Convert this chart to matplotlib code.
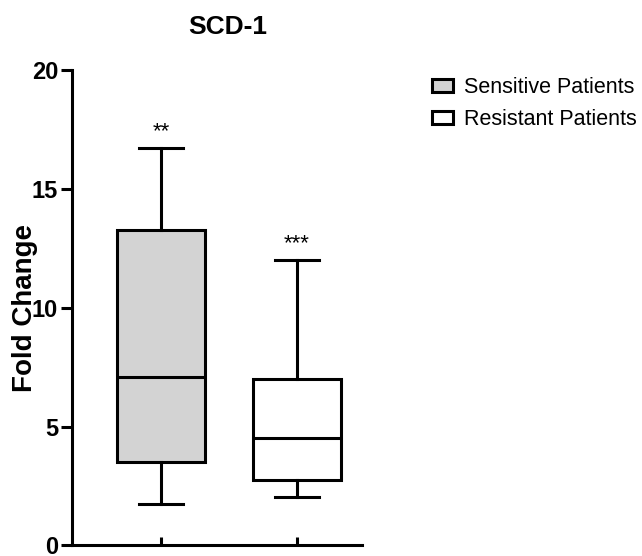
import matplotlib.pyplot as plt
from matplotlib.patches import Patch

plt.rcParams['font.family'] = ['Liberation Sans', 'DejaVu Sans']

# box summary values
groups = ['Sensitive Patients', 'Resistant Patients']
whisker_low = [1.76, 2.02]
q1 = [3.53, 2.77]
median = [7.10, 4.54]
q3 = [13.28, 7.02]
whisker_high = [16.72, 12.02]
stars = ['**', '***']
fills = ['#d3d3d3', 'white']

stats = []
for i, g in enumerate(groups):
    stats.append(dict(label=g, whislo=whisker_low[i], q1=q1[i], med=median[i],
                      q3=q3[i], whishi=whisker_high[i], fliers=[]))

fig = plt.figure(figsize=(6.42, 5.56), dpi=100)
ax = fig.add_axes([0.112, 0.019, 0.452, 0.855])

lw = 2.2
bp = ax.bxp(stats, positions=[1, 2], widths=0.647, patch_artist=True,
            showfliers=False,
            boxprops=dict(linewidth=lw, edgecolor='black'),
            medianprops=dict(linewidth=lw, color='black'),
            whiskerprops=dict(linewidth=lw, color='black'),
            capprops=dict(linewidth=lw, color='black'),
            capwidths=0.32)
for box, c in zip(bp['boxes'], fills):
    box.set_facecolor(c)

for i, s in enumerate(stars):
    ax.text(i + 1, whisker_high[i] + 0.25, s, ha='center', va='bottom', fontsize=16)

ax.set_xlim(0.346, 2.478)
ax.set_ylim(0, 20)
ax.set_yticks([0, 5, 10, 15, 20])
ax.set_xticks([1, 2])
ax.set_xticklabels([])
for side in ['top', 'right']:
    ax.spines[side].set_visible(False)
for side in ['left', 'bottom']:
    ax.spines[side].set_linewidth(lw)
ax.tick_params(axis='y', direction='out', length=8, width=lw, labelsize=17, pad=2)
ax.tick_params(axis='x', direction='in', length=6, width=lw)
for t in ax.get_yticklabels():
    t.set_fontweight('bold')

ax.set_ylabel('Fold Change', fontsize=20, fontweight='bold')
ax.yaxis.set_label_coords(-0.116, 0.5)
ax.set_title('SCD-1', fontsize=19, fontweight='bold', x=0.538, pad=26)

handles = [Patch(facecolor=c, edgecolor='black', linewidth=lw) for c in fills]
fig.legend(handles, groups, loc='upper left', bbox_to_anchor=(0.643, 0.896),
           frameon=False, fontsize=15.5, handlelength=0.95, handleheight=0.55,
           handletextpad=0.55, labelspacing=0.5)

fig.savefig('out.png', dpi=100)
